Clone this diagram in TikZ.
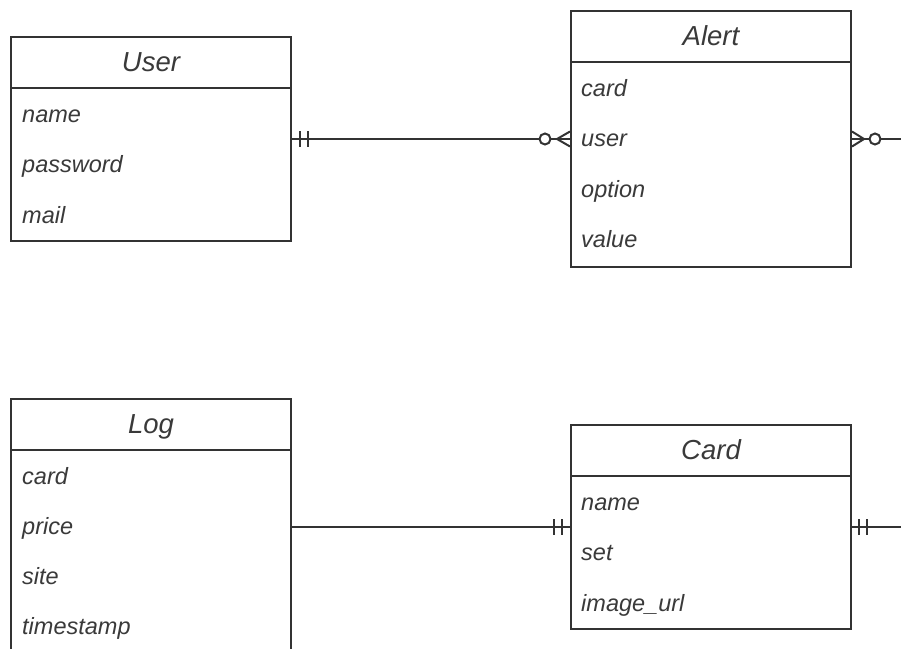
\documentclass[tikz,border=0pt]{standalone}
\usepackage{fontspec}
\setmainfont{Liberation Sans}
\usetikzlibrary{positioning}
\definecolor{erline}{HTML}{333333}
\definecolor{ertext}{HTML}{3A3A3A}
\tikzset{
  entity/.style = {draw=erline, line width=2pt, minimum width=280pt, inner sep=0pt, fill=white},
  etitle/.style = {anchor=base, inner sep=0pt, text=ertext, font=\fontsize{27.5}{32}\selectfont\itshape},
  attr/.style   = {anchor=base west, inner sep=0pt, text=ertext, font=\fontsize{23.5}{28}\selectfont\itshape},
  conn/.style   = {draw=erline, line width=2pt},
  crow/.style   = {draw=erline, line width=2pt}
}

\begin{document}
\begin{tikzpicture}[x=1pt, y=-1pt]
    \useasboundingbox (0,0) rectangle (901,648);
    \clip (0,0) rectangle (901,648);

    % User entity
    \node[entity, minimum height=204pt] (user) at (151,139) {};
    \draw[conn] ([yshift=-52pt]user.north west) -- ([yshift=-52pt]user.north east);
    \node[etitle] (userT) at ([yshift=-35.5pt]user.north) {User};
    \node[attr] (userA1) at ([shift={(12,86)}]user.north west) {name};
    \node[attr] (userA2) at ([shift={(12,136.5)}]user.north west) {password};
    \node[attr] (userA3) at ([shift={(12,187)}]user.north west) {mail};

    % Alert entity
    \node[entity, minimum height=256pt] (alert) at (711,139) {};
    \draw[conn] ([yshift=-52pt]alert.north west) -- ([yshift=-52pt]alert.north east);
    \node[etitle] (alertT) at ([yshift=-35.5pt]alert.north) {Alert};
    \node[attr] (alertA1) at ([shift={(11,86)}]alert.north west) {card};
    \node[attr] (alertA2) at ([shift={(11,136.5)}]alert.north west) {user};
    \node[attr] (alertA3) at ([shift={(11,187)}]alert.north west) {option};
    \node[attr] (alertA4) at ([shift={(11,237.5)}]alert.north west) {value};

    % Log entity (runs past the bottom edge)
    \node[entity, minimum height=256pt] (log) at (151,527) {};
    \draw[conn] ([yshift=-52pt]log.north west) -- ([yshift=-52pt]log.north east);
    \node[etitle] (logT) at ([yshift=-35.5pt]log.north) {Log};
    \node[attr] (logA1) at ([shift={(12,86)}]log.north west) {card};
    \node[attr] (logA2) at ([shift={(12,136)}]log.north west) {price};
    \node[attr] (logA3) at ([shift={(12,186)}]log.north west) {site};
    \node[attr] (logA4) at ([shift={(12,236)}]log.north west) {timestamp};

    % Card entity
    \node[entity, minimum height=204pt] (card) at (711,527) {};
    \draw[conn] ([yshift=-52pt]card.north west) -- ([yshift=-52pt]card.north east);
    \node[etitle] (cardT) at ([yshift=-35.5pt]card.north) {Card};
    \node[attr] (cardA1) at ([shift={(11,86)}]card.north west) {name};
    \node[attr] (cardA2) at ([shift={(11,136.5)}]card.north west) {set};
    \node[attr] (cardA3) at ([shift={(11,187)}]card.north west) {image\_url};

    % free ends leaving the picture
    \coordinate (alertOut) at (906,139);
    \coordinate (cardOut) at (906,527);

    % User -- Alert (one to zero-or-many)
    \draw[conn] (user.east) -- (alert.west);
    \draw[crow] ([shift={(8pt,8pt)}]user.east) -- ([shift={(8pt,-8pt)}]user.east);
    \draw[crow] ([shift={(16pt,8pt)}]user.east) -- ([shift={(16pt,-8pt)}]user.east);
    \draw[crow] ([yshift=7.5pt]alert.west) -- ([xshift=-13pt]alert.west) -- ([yshift=-7.5pt]alert.west);
    \draw[crow, fill=white] ([xshift=-25pt]alert.west) circle[radius=5.5];

    % Alert -- off to the right (zero-or-many)
    \draw[conn] (alert.east) -- (alertOut);
    \draw[crow] ([yshift=7.5pt]alert.east) -- ([xshift=12pt]alert.east) -- ([yshift=-7.5pt]alert.east);
    \draw[crow, fill=white] ([xshift=23pt]alert.east) circle[radius=5.5];

    % Log -- Card
    \draw[conn] (log.east) -- (card.west);
    \draw[crow] ([shift={(-16pt,8pt)}]card.west) -- ([shift={(-16pt,-8pt)}]card.west);
    \draw[crow] ([shift={(-8pt,8pt)}]card.west) -- ([shift={(-8pt,-8pt)}]card.west);

    % Card -- off to the right
    \draw[conn] (card.east) -- (cardOut);
    \draw[crow] ([shift={(7pt,8pt)}]card.east) -- ([shift={(7pt,-8pt)}]card.east);
    \draw[crow] ([shift={(15pt,8pt)}]card.east) -- ([shift={(15pt,-8pt)}]card.east);
\end{tikzpicture}
\end{document}
